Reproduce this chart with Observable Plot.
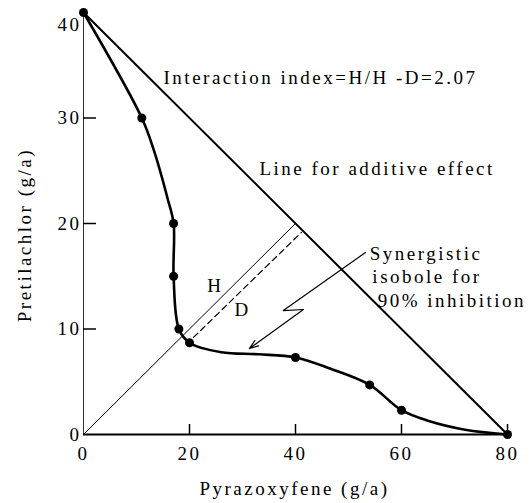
<!DOCTYPE html>
<html>
<head>
<meta charset="utf-8">
<script src="https://cdn.jsdelivr.net/npm/d3@7"></script>
<script src="https://cdn.jsdelivr.net/npm/@observablehq/plot@0.6"></script>
<style>
  html, body { margin: 0; padding: 0; background: #fff; }
  #chart svg, #chart svg text { font-family: "Liberation Serif", "DejaVu Serif", serif !important; }
  #chart svg text { letter-spacing: 2.5px; }
</style>
</head>
<body>
<div id="chart"></div>
<script>
// ---- data ----
const xTickValues = [0, 20, 40, 60, 80];
const yTickValues = [0, 10, 20, 30, 40];
const xTickMarks = [20, 40, 60, 80];
const yTickMarks = [10, 20, 30];

// observed points (Pyrazoxyfene g/a, Pretilachlor g/a)
const pyrazoxyfene = [0, 11, 17, 17, 18, 20, 40, 54, 60, 80];
const pretilachlor = [40, 30, 20, 15, 10, 8.7, 7.3, 4.7, 2.3, 0];

// path of the drawn isobole
const curveX = [0, 11, 13.3, 15.9, 17, 17, 18, 20, 26, 33, 40, 46.5, 54, 60, 65, 72, 80];
const curveY = [40, 30, 26.9, 22.3, 20, 15, 10, 8.7, 7.8, 7.6, 7.3, 6.25, 4.7, 2.3, 1.3, 0.45, 0];

// line for additive effect
const additiveX = [0, 80];
const additiveY = [40, 0];
// H line (origin to additive line) and D line (dashed)
const hX = [0, 40];
const hY = [0, 20];
const dX = [20.75, 41.1];
const dY = [9.2, 19.15];
// zig-zag pointer
const zigX = [53.2, 37.7, 41.5];
const zigY = [17.25, 11.75, 11.85];
const arrowTip = {x: 31.3, y: 8.15};

const interactionLabel = "Interaction index=H/H -D=2.07";
const additiveLabel = "Line for additive effect";
const synergyLines = ["Synergistic", "isobole for", "90% inhibition"];
const xLabel = "Pyrazoxyfene (g/a)";
const yLabel = "Pretilachlor (g/a)";

const zip = (xs, ys) => xs.map((x, i) => ({x, y: ys[i]}));
const points = zip(pyrazoxyfene, pretilachlor);
const curve = zip(curveX, curveY);

const W = 531, H = 503;
const mL = 83, mR = 24, mT = 12, mB = 69;
const plotW = W - mL - mR, plotH = H - mT - mB;
const FS = 19;

const chart = Plot.plot({
  width: W,
  height: H,
  marginLeft: mL,
  marginRight: mR,
  marginTop: mT,
  marginBottom: mB,
  style: {fontSize: "19px", background: "#fff", color: "#000", overflow: "visible"},
  x: {domain: [0, 80]},
  y: {domain: [0, 40]},
  marks: [
    // axes lines
    Plot.ruleX([0], {stroke: "#333", strokeWidth: 1}),
    Plot.ruleY([0], {stroke: "#000", strokeWidth: 2}),
    Plot.tickX(xTickMarks, {x: d => d, insetTop: plotH - 10, stroke: "#000", strokeWidth: 1.5}),
    Plot.tickY(yTickMarks, {y: d => d, insetRight: plotW - 13, stroke: "#000", strokeWidth: 1.5}),
    Plot.axisX({ticks: xTickValues, tickSize: 0, tickPadding: 12, label: null, fontSize: FS}),
    Plot.axisY({ticks: yTickValues.filter(v => v < 40), tickSize: 0, tickPadding: 2, label: null, fontSize: FS}),
    Plot.text([String(yTickValues[4])], {x: 0, y: 40, dx: -2, dy: 12, textAnchor: "end", fontSize: FS}),
    // additive line
    Plot.line(zip(additiveX, additiveY), {x: "x", y: "y", stroke: "#000", strokeWidth: 2}),
    // H and D lines
    Plot.line(zip(hX, hY), {x: "x", y: "y", stroke: "#000", strokeWidth: 1}),
    Plot.line(zip(dX, dY), {x: "x", y: "y", stroke: "#000", strokeWidth: 1.2, strokeDasharray: "6,4"}),
    // isobole
    Plot.line(curve, {x: "x", y: "y", curve: "catmull-rom", stroke: "#000", strokeWidth: 2.6}),
    Plot.dot(points, {x: "x", y: "y", r: 4.5, fill: "#000"}),
    // zig-zag pointer
    Plot.line(zip(zigX, zigY), {x: "x", y: "y", stroke: "#000", strokeWidth: 1.2}),
    Plot.arrow([0], {x1: zigX[2], y1: zigY[2], x2: arrowTip.x, y2: arrowTip.y, stroke: "#000", strokeWidth: 1.2, headLength: 12, headAngle: 40}),
    // annotations
    Plot.text([interactionLabel], {x: 15.1, y: 33.8, textAnchor: "start", fontSize: FS}),
    Plot.text([additiveLabel], {x: 33.2, y: 25.2, textAnchor: "start", fontSize: FS}),
    Plot.text(["H"], {x: 24.9, y: 14.1, fontSize: FS}),
    Plot.text(["D"], {x: 30.0, y: 11.85, fontSize: FS}),
    Plot.text([synergyLines[0]], {x: 54.0, y: 17.16, textAnchor: "start", fontSize: FS}),
    Plot.text([synergyLines[1]], {x: 54.5, y: 14.9, textAnchor: "start", fontSize: FS}),
    Plot.text([synergyLines[2]], {x: 55.5, y: 12.7, textAnchor: "start", fontSize: FS}),
    // axis titles
    Plot.text([xLabel], {x: 39.8, y: -5.2, fontSize: FS}),
    Plot.text([yLabel], {x: -11.1, y: 18.9, rotate: -90, fontSize: FS})
  ]
});
document.getElementById("chart").appendChild(chart);
</script>
</body>
</html>
